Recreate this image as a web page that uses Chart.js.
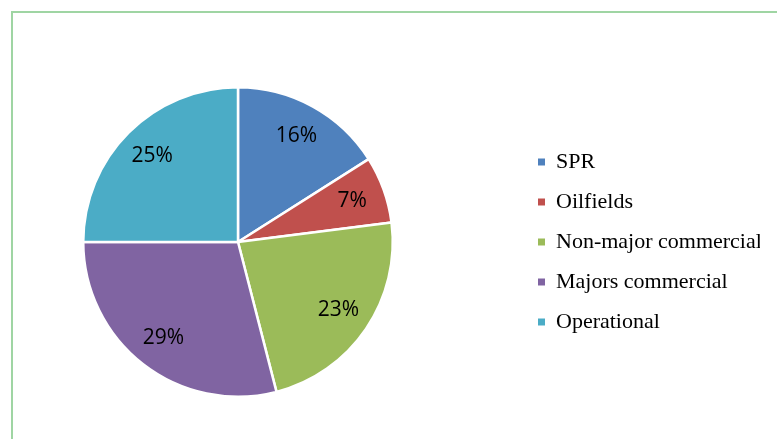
<!DOCTYPE html>
<html>
<head>
<meta charset="utf-8">
<script src="https://cdn.jsdelivr.net/npm/chart.js@4/dist/chart.umd.min.js"></script>
<style>
  html, body { margin: 0; padding: 0; background: #fff; overflow: hidden; }
  #frame { position: absolute; left: 11px; top: 11px; width: 820px; height: 500px; border: 2px solid #9fd5a3; }
  #pie { position: absolute; left: -44px; top: 0; }
</style>
</head>
<body>
<div id="frame"></div>
<canvas id="pie" width="821" height="439"></canvas>
<script>
const categories = ['SPR', 'Oilfields', 'Non-major commercial', 'Majors commercial', 'Operational'];
const shares = [16, 7, 23, 29, 25];
const colors = ['#4f81bd', '#c0504d', '#9bbb59', '#8064a2', '#4bacc6'];

// percent labels sit ~78% out along each slice's middle angle
const sliceLabels = {
  id: 'sliceLabels',
  afterDatasetsDraw(chart) {
    const ctx = chart.ctx;
    const meta = chart.getDatasetMeta(0);
    ctx.save();
    ctx.font = '21px "Open Sans"';
    ctx.fillStyle = '#000';
    ctx.textAlign = 'center';
    ctx.textBaseline = 'middle';
    meta.data.forEach((arc, i) => {
      const p = arc.getProps(['x', 'y', 'startAngle', 'endAngle', 'outerRadius']);
      const mid = (p.startAngle + p.endAngle) / 2;
      const r = p.outerRadius * 0.785;
      ctx.fillText(shares[i] + '%', p.x + Math.cos(mid) * r, p.y + Math.sin(mid) * r);
    });
    ctx.restore();
  }
};

const ctx = document.getElementById('pie').getContext('2d');
const chart = new Chart(ctx, {
  type: 'pie',
  data: {
    labels: categories,
    datasets: [{
      data: shares,
      backgroundColor: colors,
      borderColor: '#fff',
      borderWidth: 2.5
    }]
  },
  options: {
    responsive: false,
    animation: false,
    layout: { padding: { top: 86, bottom: 41, left: 0, right: 17 } },
    plugins: {
      tooltip: { enabled: false },
      legend: {
        position: 'right',
        maxWidth: 240,
        labels: {
          boxWidth: 7,
          boxHeight: 7,
          padding: 18,
          color: '#000',
          font: { family: '"Liberation Serif", "Times New Roman", serif', size: 22 },
          generateLabels: c => Chart.overrides.pie.plugins.legend.labels.generateLabels(c)
            .map(l => Object.assign(l, { lineWidth: 0 }))
        }
      }
    }
  },
  plugins: [sliceLabels]
});
</script>
</body>
</html>
